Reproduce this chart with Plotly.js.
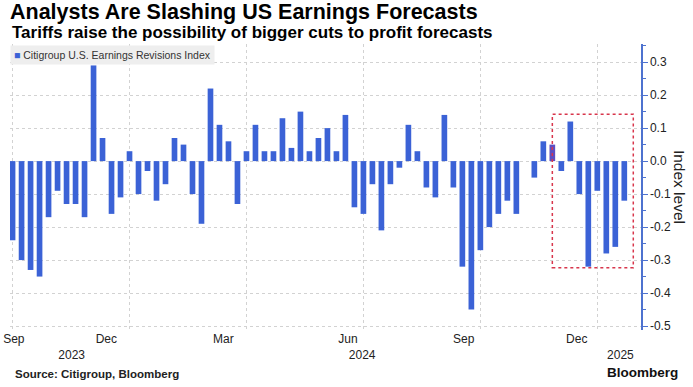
<!DOCTYPE html>
<html>
<head>
<meta charset="utf-8">
<script src="https://cdn.plot.ly/plotly-3.0.1.min.js"></script>
<style>
  html, body { margin: 0; padding: 0; background: #fff; }
  #chart { width: 693px; height: 387px; }
</style>
</head>
<body>
<div id="chart"></div>
<script>
// ---- Data (weekly readings, Citigroup U.S. Earnings Revisions Index) ----
const weekDates = [
  '2023-09-19','2023-09-26','2023-10-03','2023-10-10','2023-10-17','2023-10-24','2023-10-31',
  '2023-11-07','2023-11-14','2023-11-21','2023-11-28','2023-12-05','2023-12-12','2023-12-19',
  '2023-12-26','2024-01-02','2024-01-09','2024-01-16','2024-01-23','2024-01-30','2024-02-06',
  '2024-02-13','2024-02-20','2024-02-27','2024-03-05','2024-03-12','2024-03-19','2024-03-26',
  '2024-04-02','2024-04-09','2024-04-16','2024-04-23','2024-04-30','2024-05-07','2024-05-14',
  '2024-05-21','2024-05-28','2024-06-04','2024-06-11','2024-06-18','2024-06-25','2024-07-02',
  '2024-07-09','2024-07-16','2024-07-23','2024-07-30','2024-08-06','2024-08-13','2024-08-20',
  '2024-08-27','2024-09-03','2024-09-10','2024-09-17','2024-09-24','2024-10-01','2024-10-08',
  '2024-10-15','2024-10-22','2024-10-29','2024-11-05','2024-11-12','2024-11-19','2024-11-26',
  '2024-12-03','2024-12-10','2024-12-17','2024-12-24','2024-12-31','2025-01-07'
];
const revisionsIndex = [
  -0.24, -0.30, -0.33, -0.35, -0.17, -0.09, -0.13,
  -0.13, -0.17,  0.29,  0.07, -0.16, -0.11,  0.03,
  -0.10, -0.03, -0.12, -0.07,  0.07,  0.05, -0.10,
  -0.19,  0.22,  0.11,  0.06, -0.13,  0.03,  0.11,
   0.03,  0.03,  0.13,  0.04,  0.15,  0.03,  0.07,
   0.10,  0.03,  0.14, -0.14, -0.16, -0.07, -0.21,
  -0.07, -0.02,  0.11,  0.03, -0.08, -0.11,  0.14,
  -0.08, -0.32, -0.45, -0.27, -0.20, -0.16, -0.12,
  -0.16,  0.00, -0.05,  0.06,  0.05, -0.03,  0.12,
  -0.10, -0.32, -0.09, -0.28, -0.26, -0.12
];
const seriesName = 'Citigroup U.S. Earnings Revisions Index';

// axis labels
const monthTicks  = ['2023-09-20','2023-12-01','2024-03-01','2024-06-06','2024-09-04','2024-12-01'];
const monthLabels = ['Sep','Dec','Mar','Jun','Sep','Dec'];
const yearTicks   = ['2023-11-04','2024-06-17','2025-01-04'];
const yearLabels  = ['2023','2024','2025'];
const gridDates   = ['2023-09-19','2023-12-19','2024-03-19','2024-06-18','2024-09-17','2024-12-17'];
const yTickVals   = [-0.5, -0.4, -0.3, -0.2, -0.1, 0.0, 0.1, 0.2, 0.3];
const yTickText   = ['-0.5','-0.4','-0.3','-0.2','-0.1','0.0','0.1','0.2','0.3'];

// highlighted period (red dotted box): [start date, end date], [low, high]
const highlightDates  = ['2024-11-12', '2025-01-14'];
const highlightLevels = [-0.323, 0.142];

// ---- Styling ----
const FONT = 'Liberation Sans, Arial, Helvetica, sans-serif';
const BLUE = '#3b62d6';
const PURPLE = '#5d4fc2';
const AXIS_BLUE = '#4e72cf';
const GRID = '#d2d2d2';
const xRange = ['2023-09-17', '2025-01-20'];

const barColors = weekDates.map(d => d === highlightDates[0] ? PURPLE : BLUE);

const traces = [{
  type: 'bar',
  name: seriesName,
  x: weekDates,
  y: revisionsIndex,
  marker: { color: barColors, line: { width: 0 } },
  showlegend: false,
  hoverinfo: 'x+y'
}, {
  type: 'scatter', mode: 'markers', x: [weekDates[0]], y: [null],
  xaxis: 'x2', showlegend: false, hoverinfo: 'skip'
}, {
  type: 'scatter', mode: 'markers', x: [weekDates[0]], y: [null],
  xaxis: 'x3', showlegend: false, hoverinfo: 'skip'
}];

// minor tick positions halfway between the labelled ticks
const yMinor = [];
for (let i = 0; i < yTickVals.length; i++) yMinor.push(+(yTickVals[i] + 0.05).toFixed(2));

const layout = {
  width: 693, height: 387,
  margin: { l: 10, r: 52, t: 44, b: 57, pad: 0 },
  paper_bgcolor: '#ffffff', plot_bgcolor: '#ffffff',
  font: { family: FONT, color: '#222' },
  bargap: 0.37,
  title: {
    text: 'Analysts Are Slashing US Earnings Forecasts',
    font: { family: FONT, size: 21.5, color: '#000', weight: 'bold' },
    xref: 'paper', x: 0, xanchor: 'left',
    yref: 'container', y: 1 - 11 / 387, yanchor: 'middle',
    pad: { t: 0, l: 0, r: 0, b: 0 }
  },
  xaxis: {
    type: 'date', range: xRange,
    tickmode: 'array', tickvals: monthTicks, ticktext: monthLabels,
    showgrid: false, zeroline: false, showline: false, ticks: '',
    tickfont: { family: FONT, size: 12, color: '#222' },
    fixedrange: true
  },
  xaxis2: {
    type: 'date', range: xRange, overlaying: 'x',
    tickmode: 'array', tickvals: gridDates, showticklabels: false,
    showgrid: true, gridcolor: GRID, griddash: 'dot', gridwidth: 1,
    zeroline: false, showline: false, ticks: '', fixedrange: true
  },
  xaxis3: {
    type: 'date', range: xRange, overlaying: 'x',
    tickmode: 'array', tickvals: yearTicks, ticktext: yearLabels,
    showgrid: false, zeroline: false, showline: false, ticks: '',
    ticklabelstandoff: 16,
    tickfont: { family: FONT, size: 12, color: '#222' },
    fixedrange: true
  },
  yaxis: {
    side: 'right', range: [-0.512, 0.355],
    tickmode: 'array', tickvals: yTickVals, ticktext: yTickText,
    showgrid: true, gridcolor: GRID, griddash: 'dot', gridwidth: 1,
    zeroline: false,
    showline: true, linecolor: AXIS_BLUE, linewidth: 1.5,
    ticks: 'outside', ticklen: 5, tickcolor: AXIS_BLUE, tickwidth: 1,
    minor: { tickmode: 'array', tickvals: yMinor, ticks: 'outside', ticklen: 3, tickcolor: AXIS_BLUE, showgrid: false },
    tickfont: { family: FONT, size: 12, color: '#222' },
    fixedrange: true
  },
  shapes: [{
    type: 'rect', xref: 'x', yref: 'y',
    x0: highlightDates[0], x1: highlightDates[1],
    y0: highlightLevels[0], y1: highlightLevels[1],
    line: { color: '#d8364c', width: 1.5, dash: 'dot' },
    fillcolor: 'rgba(0,0,0,0)', layer: 'above'
  }],
  annotations: [{
    // subtitle
    xref: 'paper', yref: 'paper', x: 0, y: 1 + 12 / 286, xanchor: 'left', yanchor: 'middle',
    text: 'Tariffs raise the possibility of bigger cuts to profit forecasts',
    showarrow: false,
    font: { family: FONT, size: 17, color: '#000', weight: 'bold' }
  }, {
    // legend
    xref: 'paper', yref: 'paper', x: 0, y: 0.997, xanchor: 'left', yanchor: 'top',
    text: '<span style="color:' + BLUE + '">■</span> ' + seriesName,
    showarrow: false, bgcolor: '#eeeeee', borderpad: 3,
    font: { family: FONT, size: 10.5, color: '#333' }
  }, {
    xref: 'paper', yref: 'paper', x: 1.062, y: 0.5, xanchor: 'center', yanchor: 'middle',
    text: 'Index level', textangle: 90, showarrow: false,
    font: { family: FONT, size: 15.5, color: '#222' }
  }, {
    xref: 'paper', yref: 'paper', x: 0.005, y: -0.155, xanchor: 'left', yanchor: 'middle',
    text: 'Source: Citigroup, Bloomberg', showarrow: false,
    font: { family: FONT, size: 11.5, color: '#222', weight: 'bold' }
  }, {
    xref: 'paper', yref: 'paper', x: 1.062, y: -0.147, xanchor: 'right', yanchor: 'middle',
    text: 'Bloomberg', showarrow: false,
    font: { family: FONT, size: 13.5, color: '#111', weight: 'bold' }
  }]
};

Plotly.newPlot('chart', traces, layout, { staticPlot: true, displayModeBar: false });
</script>
</body>
</html>
